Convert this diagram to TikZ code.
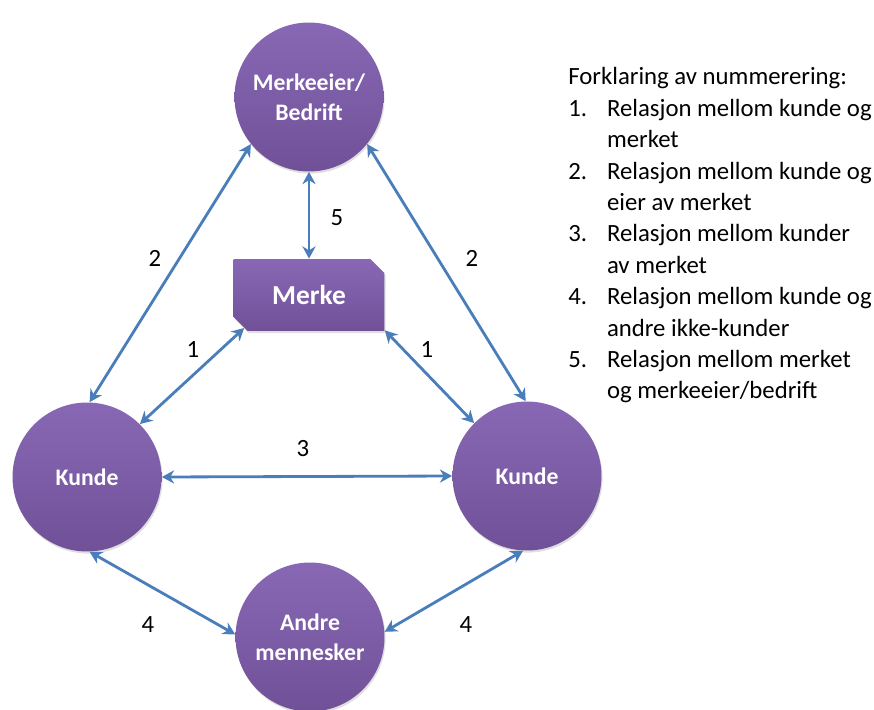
\documentclass[tikz,border=0pt]{standalone}
\usepackage{fontspec}
\setmainfont{Carlito}
\usetikzlibrary{arrows.meta,shapes.misc,shadows}
\definecolor{lillatopp}{RGB}{136,104,180}
\definecolor{lillabunn}{RGB}{112,81,152}
\definecolor{pilblaa}{RGB}{74,126,187}

\begin{document}
\begin{tikzpicture}[x=0.02cm,y=-0.02cm]
	\tikzset{>={Stealth[length=7pt,width=7.5pt]}}
	\tikzset{aktor/.style={circle,minimum size=2.98cm,inner sep=0pt,top color=lillatopp,bottom color=lillabunn,text=white,align=center,
			font=\fontsize{13.5pt}{17pt}\selectfont\bfseries,drop shadow={opacity=0.25,shadow xshift=0.6pt,shadow yshift=-1.2pt}}}
	\tikzset{rel/.style={<->,draw=pilblaa,line width=1.6pt}}
	\tikzset{tall/.style={font=\fontsize{14.1pt}{17.86pt}\selectfont}}
	\useasboundingbox (0,0) rectangle (874,709);
	% aktorer
	\node[aktor] (eier) at (309,97) {Merkeeier/\\Bedrift};
	\node[aktor] (kundeV) at (87,477) {Kunde};
	\node[aktor] (kundeH) at (527,476) {Kunde};
	\node[aktor] (andre) at (310,637) {Andre\\mennesker};
	\node[chamfered rectangle,chamfered rectangle corners={north east,south west},chamfered rectangle sep=4pt,
		minimum width=3.02cm,minimum height=1.44cm,top color=lillatopp,bottom color=lillabunn,text=white,
		font=\fontsize{15.6pt}{18pt}\selectfont\bfseries,drop shadow={opacity=0.25,shadow xshift=0.6pt,shadow yshift=-1.2pt}] (merke) at (309,295) {Merke};
	% relasjoner
	\draw[rel] (eier.south) -- (merke.north);
	\draw[rel] (eier.219) -- (kundeV.88);
	\draw[rel] (eier.321) -- (kundeH.91);
	\draw[rel] (merke.207) -- (kundeV.45);
	\draw[rel] (merke.335) -- (kundeH.135);
	\draw[rel] (kundeV.east) -- (kundeH.west);
	\draw[rel] (kundeV.-88) -- (andre.178);
	\draw[rel] (kundeH.267) -- (andre.4);
	% nummer
	\node[tall] (n5) at (337,218) {5};
	\node[tall] (n2v) at (155,258) {2};
	\node[tall] (n2h) at (472,258) {2};
	\node[tall] (n1v) at (193,350) {1};
	\node[tall] (n1h) at (427,350) {1};
	\node[tall] (n3) at (303,449) {3};
	\node[tall] (n4v) at (148,625) {4};
	\node[tall] (n4h) at (466,625) {4};
	% forklaring
	\node[tall,anchor=base west,inner sep=0pt] (forklaring) at (568,85) {%
		\begin{tabular}[t]{@{}p{22pt}@{}l@{}}
			\multicolumn{2}{@{}l@{}}{Forklaring av nummerering:}\\
			1. & Relasjon mellom kunde og\\
			   & merket\\
			2. & Relasjon mellom kunde og\\
			   & eier av merket\\
			3. & Relasjon mellom kunder\\
			   & av merket\\
			4. & Relasjon mellom kunde og\\
			   & andre ikke-kunder\\
			5. & Relasjon mellom merket\\
			   & og merkeeier/bedrift
		\end{tabular}};
\end{tikzpicture}
\end{document}
